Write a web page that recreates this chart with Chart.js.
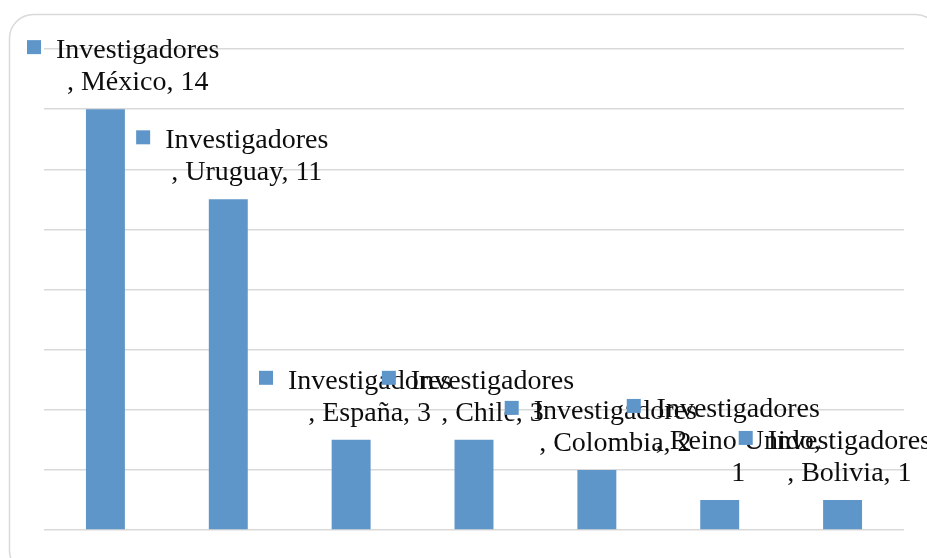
<!DOCTYPE html>
<html>
<head>
<meta charset="utf-8">
<script src="https://cdn.jsdelivr.net/npm/chart.js@4.4.1/dist/chart.umd.min.js"></script>
<style>
  body { margin: 0; background: #fff; }
  #wrap { width: 927px; height: 558px; position: relative; }
</style>
</head>
<body>
<div id="wrap"><canvas id="chart"></canvas></div>
<script>
const seriesName = "Investigadores";
const categories = ["México", "Uruguay", "España", "Chile", "Colombia", "Reino Unido", "Bolivia"];
const investigadores = [14, 11, 3, 3, 2, 1, 1];
const yMin = 0;
const yMax = 16;
const yStep = 2;

const barColor = "#5f96c9";
const labelFont = '28px "Liberation Serif", "Times New Roman", serif';

// parte el texto en lineas si pasa del ancho maximo
function wrapText(ctx, text, maxWidth) {
  const words = text.split(" ");
  const lines = [];
  let cur = "";
  words.forEach((w) => {
    const test = cur ? cur + " " + w : w;
    if (cur && ctx.measureText(test).width > maxWidth) {
      lines.push(cur);
      cur = w;
    } else {
      cur = test;
    }
  });
  if (cur) lines.push(cur);
  return lines;
}

const frame = {
  id: "frame",
  beforeDraw(chart) {
    const ctx = chart.ctx;
    ctx.save();
    ctx.strokeStyle = "#d9d9d9";
    ctx.lineWidth = 1.5;
    ctx.beginPath();
    ctx.roundRect(9.5, 14.5, 930, 560, 24);
    ctx.stroke();
    ctx.restore();
  },
};

const barLabels = {
  id: "barLabels",
  afterDatasetsDraw(chart) {
    const ctx = chart.ctx;
    const meta = chart.getDatasetMeta(0);
    ctx.save();
    ctx.font = labelFont;
    ctx.textBaseline = "alphabetic";
    ctx.textAlign = "center";
    meta.data.forEach((bar, i) => {
      const text = ", " + categories[i] + ", " + investigadores[i];
      const lines = [seriesName].concat(wrapText(ctx, text, 175));
      const w = Math.max(...lines.map((l) => ctx.measureText(l).width));
      const blockW = 29 + w;
      let left = bar.x + 4 - blockW / 2;
      left = Math.max(27, Math.min(left, 931 - blockW));
      const lastBase = bar.y - 19;
      const firstBase = lastBase - (lines.length - 1) * 32;
      ctx.fillStyle = barColor;
      ctx.fillRect(left, firstBase - 18, 14, 14);
      ctx.fillStyle = "#0d0d0d";
      lines.forEach((l, k) => {
        ctx.fillText(l, left + 29 + w / 2, firstBase + k * 32);
      });
    });
    ctx.restore();
  },
};

new Chart(document.getElementById("chart"), {
  type: "bar",
  data: {
    labels: categories,
    datasets: [
      {
        label: seriesName,
        data: investigadores,
        backgroundColor: barColor,
        categoryPercentage: 1,
        barPercentage: 0.317,
      },
    ],
  },
  options: {
    responsive: true,
    maintainAspectRatio: false,
    animation: false,
    layout: { padding: { left: 44, right: 23, top: 49, bottom: 28 } },
    plugins: {
      legend: { display: false },
      tooltip: { enabled: false },
    },
    scales: {
      x: { display: false },
      y: {
        min: yMin,
        max: yMax,
        ticks: { stepSize: yStep, display: false },
        grid: { color: "#d9d9d9", lineWidth: 1.5, drawTicks: false },
        border: { display: false },
      },
    },
  },
  plugins: [frame, barLabels],
});
</script>
</body>
</html>
